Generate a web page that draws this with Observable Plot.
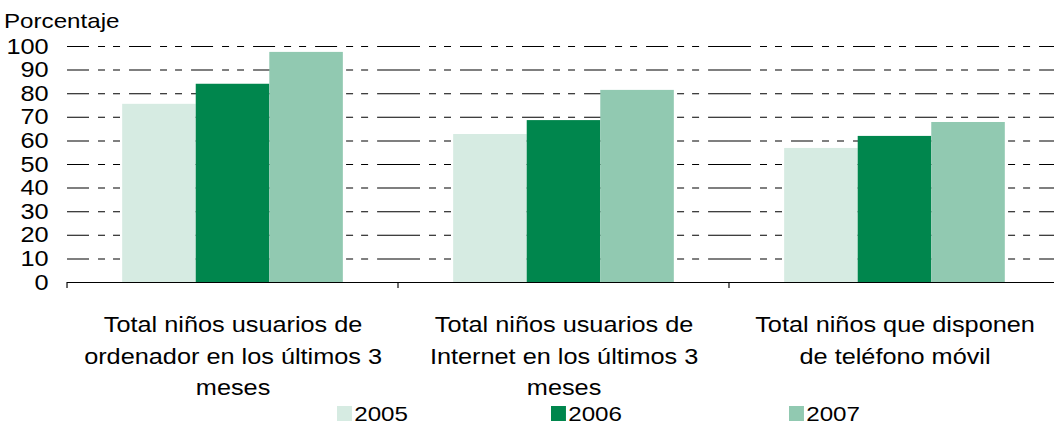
<!DOCTYPE html>
<html><head><meta charset="utf-8">
<script src="https://cdn.jsdelivr.net/npm/d3@7"></script>
<script src="https://cdn.jsdelivr.net/npm/@observablehq/plot@0.6"></script>
<style>
html,body{margin:0;padding:0;background:#fff;overflow:hidden;width:1054px;height:428px;}
#wrap{position:relative;width:1054px;height:428px;font-family:"Liberation Sans",Arial,sans-serif;color:#000;overflow:hidden;}
#ylabel{position:absolute;left:4px;top:10px;font-size:21px;line-height:1;transform:scaleX(1.15);transform-origin:0 0;white-space:nowrap;}
#chart{position:absolute;left:0;top:0;}
#legend{position:absolute;top:403px;left:0;width:1054px;height:22px;font-size:21px;line-height:1;}
.item{position:absolute;top:0;display:flex;align-items:center;transform:scaleX(1.15);transform-origin:0 0;white-space:nowrap;}
.sw{width:13px;height:15px;margin-right:2px;}
</style></head><body>
<div id="wrap"><div id="chart"></div><div id="ylabel"></div><div id="legend"></div></div>
<script>
const categories = [
  "Total niños usuarios de ordenador en los últimos 3 meses",
  "Total niños usuarios de Internet en los últimos 3 meses",
  "Total niños que disponen de teléfono móvil"
];
const categoryLabels = [
  "Total niños usuarios de\nordenador en los últimos 3\nmeses",
  "Total niños usuarios de\nInternet en los últimos 3\nmeses",
  "Total niños que disponen\nde teléfono móvil"
];
const years = ["2005", "2006", "2007"];
const values2005 = [75.5, 62.7, 56.8];
const values2006 = [84.0, 68.6, 61.9];
const values2007 = [97.5, 81.4, 67.8];
const colors = ["#d6ebe2", "#00864d", "#91c9b1"];
const yLabel = "Porcentaje";

const seriesValues = [values2005, values2006, values2007];
const data = categories.flatMap((c, i) => years.map((y, j) => ({category: c, year: y, value: seriesValues[j][i]})));

// the reference's text is horizontally stretched; the whole drawing is stretched the same way
const SX = 1.15;
const FONT = '"Liberation Sans", Arial, sans-serif';
const dash = [22, 9, 7, 8, 7, 9].map(v => (v / SX).toFixed(2)).join(",");

const plot = Plot.plot({
  width: 1060 / SX, height: 400,
  marginTop: 46, marginBottom: 118, marginLeft: 67 / SX, marginRight: 0,
  style: {fontFamily: FONT, fontSize: "22px", color: "#000", background: "transparent", overflow: "visible",
          transform: `scaleX(${SX})`, transformOrigin: "0 0"},
  fx: {domain: categories, paddingInner: 0, paddingOuter: 0, round: false, axis: null, label: null},
  x: {domain: years, paddingInner: 0, paddingOuter: 0.75, round: false, axis: null, label: null},
  y: {domain: [0, 100], ticks: 10, tickSize: 0, tickPadding: 19 / SX, label: null, tickFormat: d => String(d)},
  color: {domain: years, range: colors},
  marks: [
    Plot.ruleY(d3.range(10, 101, 10), {stroke: "#000", strokeWidth: 1, strokeDasharray: dash}),
    Plot.barY(data, {fx: "category", x: "year", y: "value", fill: "year", inset: 0}),
    Plot.ruleY([0], {stroke: "#000", strokeWidth: 1}),
    Plot.text(categories, {fx: d => d, text: (d, i) => categoryLabels[i], frameAnchor: "bottom", lineAnchor: "top",
      dy: 28, fontSize: 22, lineHeight: 1.41, fill: "#000"})
  ]
});
document.getElementById("chart").appendChild(plot);
document.getElementById("ylabel").textContent = yLabel;

// tick marks at the category band edges, from the plot's own scales
const svgEl = plot.tagName.toLowerCase() === "svg" ? plot : plot.querySelector("svg");
const fxS = plot.scale("fx"), yS = plot.scale("y");
const y0 = yS.apply(0);
const edges = categories.map(c => fxS.apply(c));
edges.push(fxS.apply(categories[categories.length - 1]) + fxS.bandwidth);
d3.select(svgEl).append("g").attr("stroke", "#000").selectAll("line").data(edges).join("line")
  .attr("vector-effect", "non-scaling-stroke")
  .attr("x1", d => d).attr("x2", d => d)
  .attr("y1", y0).attr("y2", y0 + 6);

// legend
const legend = document.getElementById("legend");
const legendX = [337, 551, 789];
years.forEach((y, i) => {
  const it = document.createElement("div");
  it.className = "item";
  it.style.left = legendX[i] + "px";
  const sw = document.createElement("div");
  sw.className = "sw";
  sw.style.background = colors[i];
  const t = document.createElement("span");
  t.textContent = y;
  it.appendChild(sw); it.appendChild(t);
  legend.appendChild(it);
});
</script>
</body></html>
